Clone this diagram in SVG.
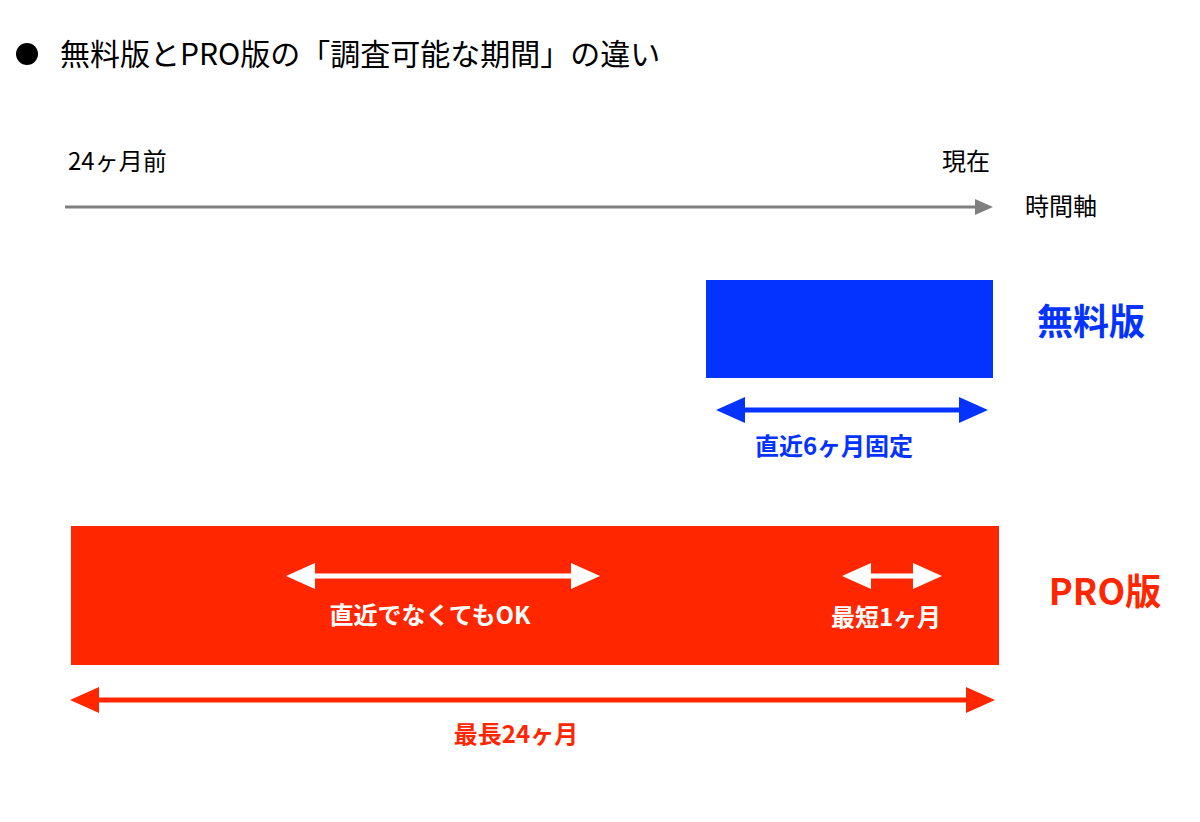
<svg xmlns="http://www.w3.org/2000/svg" width="1200" height="822" viewBox="0 0 1200 822">
<style>
text{font-family:"Noto Sans CJK JP","Liberation Sans",sans-serif}
.b{font-weight:bold}
</style>
<rect width="1200" height="822" fill="#fff"/>
<g id="title">
<circle cx="27" cy="54" r="11" fill="#000"/>
<text x="60" y="65" font-size="30">無料版とPRO版の「調査可能な期間」の違い</text>
</g>
<g id="axis">
<text x="68" y="170" font-size="24">24ヶ月前</text>
<text x="942" y="170" font-size="24">現在</text>
<text x="1025" y="215" font-size="24">時間軸</text>
</g>
<g id="free">
<rect x="706" y="280" width="287" height="98" fill="#0433ff"/>
<text x="1037" y="335" font-size="36" class="b" fill="#0433ff">無料版</text>
<text x="834" y="455" font-size="24" class="b" fill="#0433ff" text-anchor="middle">直近6ヶ月固定</text>
</g>
<g id="pro">
<rect x="71" y="526" width="928" height="139" fill="#ff2600"/>
<text x="1105" y="605" font-size="36" class="b" fill="#ff2600" text-anchor="middle">PRO版</text>
<text x="430" y="624" font-size="24" class="b" fill="#fff" text-anchor="middle">直近でなくてもOK</text>
<text x="886" y="626" font-size="24" class="b" fill="#fff" text-anchor="middle">最短1ヶ月</text>
<text x="516" y="743" font-size="24" class="b" fill="#ff2600" text-anchor="middle">最長24ヶ月</text>
</g>
<g id="connectors">
<line x1="65" y1="207" x2="978" y2="207" stroke="#7f7f7f" stroke-width="3"/>
<polygon points="975,199 993,207 975,215" fill="#7f7f7f"/>
<line x1="735" y1="410" x2="970" y2="410" stroke="#0433ff" stroke-width="5"/>
<polygon points="716,410 745,397 745,423" fill="#0433ff"/>
<polygon points="988,410 959,397 959,423" fill="#0433ff"/>
<line x1="305" y1="576" x2="580" y2="576" stroke="#fff" stroke-width="5"/>
<polygon points="286,576 315,563 315,589" fill="#fff"/>
<polygon points="600,576 571,563 571,589" fill="#fff"/>
<line x1="860" y1="576" x2="925" y2="576" stroke="#fff" stroke-width="5"/>
<polygon points="842,576 871,563 871,589" fill="#fff"/>
<polygon points="942,576 913,563 913,589" fill="#fff"/>
<line x1="90" y1="700" x2="975" y2="700" stroke="#ff2600" stroke-width="5"/>
<polygon points="70,700 99,687 99,713" fill="#ff2600"/>
<polygon points="995,700 966,687 966,713" fill="#ff2600"/>
</g>
</svg>
